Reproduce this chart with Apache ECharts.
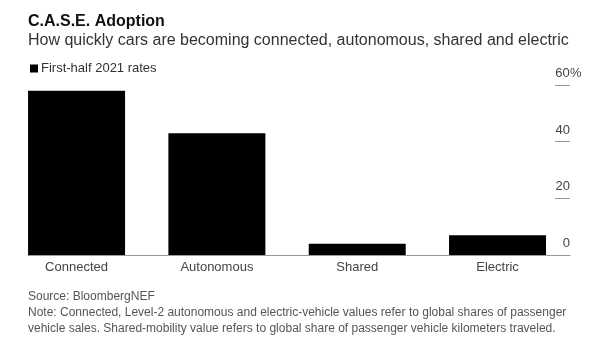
<!DOCTYPE html>
<html><head><meta charset="utf-8">
<script src="https://cdn.jsdelivr.net/npm/echarts@6/dist/echarts.min.js"></script>
<style>html,body{margin:0;padding:0;background:#fff}#c{width:600px;height:344px}</style>
</head><body><div id="c"></div>
<script>
const categories = ['Connected', 'Autonomous', 'Shared', 'Electric'];
const rates = [58, 43, 4, 7];
const yTicks = [0, 20, 40, 60];
const seriesName = 'First-half 2021 rates';

const font = 'Liberation Sans, Arial, Helvetica, sans-serif';
const chart = echarts.init(document.getElementById('c'), null, {renderer: 'canvas'});
const gridTop = 85, gridHeight = 170;
chart.setOption({
  animation: false,
  textStyle: {fontFamily: font},
  title: [
    {text: 'C.A.S.E. Adoption', left: 23, top: 9, textStyle: {fontSize: 16, fontWeight: 'bold', color: '#111', fontFamily: font}},
    {text: 'How quickly cars are becoming connected, autonomous, shared and electric', left: 23, top: 28, textStyle: {fontSize: 16, fontWeight: 'normal', color: '#333', fontFamily: font}},
    {text: 'Source: BloombergNEF\nNote: Connected, Level-2 autonomous and electric-vehicle values refer to global shares of passenger\nvehicle sales. Shared-mobility value refers to global share of passenger vehicle kilometers traveled.',
     left: 23, top: 284, textStyle: {fontSize: 12, fontWeight: 'normal', color: '#555', lineHeight: 16, fontFamily: font}}
  ],
  legend: {
    data: [seriesName], left: 25, top: 57, icon: 'rect', itemWidth: 8, itemHeight: 8, itemGap: 4,
    textStyle: {fontSize: 13, color: '#333', fontFamily: font, padding: [0,0,0,-2]}
  },
  grid: [
    {left: 6.4, width: 561.3, top: gridTop, height: gridHeight},
    {left: 28, right: 30, top: gridTop, height: gridHeight}
  ],
  xAxis: [
    {type: 'category', gridIndex: 0, data: categories,
     axisLine: {show: false}, axisTick: {show: false},
     axisLabel: {margin: 6, fontSize: 13, color: '#444', fontFamily: font}},
    {type: 'value', gridIndex: 1, min: 0, max: 1,
     axisLine: {show: true, onZero: false, lineStyle: {color: '#999', width: 1}},
     axisTick: {show: false}, axisLabel: {show: false}, splitLine: {show: false}}
  ],
  yAxis: [
    {type: 'value', gridIndex: 0, min: 0, max: 60, interval: 20, show: false, splitLine: {show: false}},
    {type: 'value', gridIndex: 1, min: 0, max: 60, interval: 20, position: 'right',
     axisLine: {show: false, onZero: false},
     axisTick: {show: true, inside: true, length: 15, lineStyle: {color: '#999', width: 1}},
     splitLine: {show: false},
     axisLabel: {
       align: 'left', margin: -15, verticalAlign: 'bottom', padding: [0, 0, 5, 0],
       fontSize: 13, color: '#444', fontFamily: font,
       formatter: v => v === yTicks[yTicks.length - 1] ? '{n|' + v + '}{p|%}' : '{n|' + v + '}',
       rich: {n: {fontSize: 13, color: '#444', width: 15, align: 'right', fontFamily: font}, p: {fontSize: 13, color: '#444', fontFamily: font}}
     }}
  ],
  series: [
    {name: seriesName, type: 'bar', xAxisIndex: 0, yAxisIndex: 0, data: rates,
     barWidth: 97, itemStyle: {color: '#000'}}
  ]
});
</script></body></html>
